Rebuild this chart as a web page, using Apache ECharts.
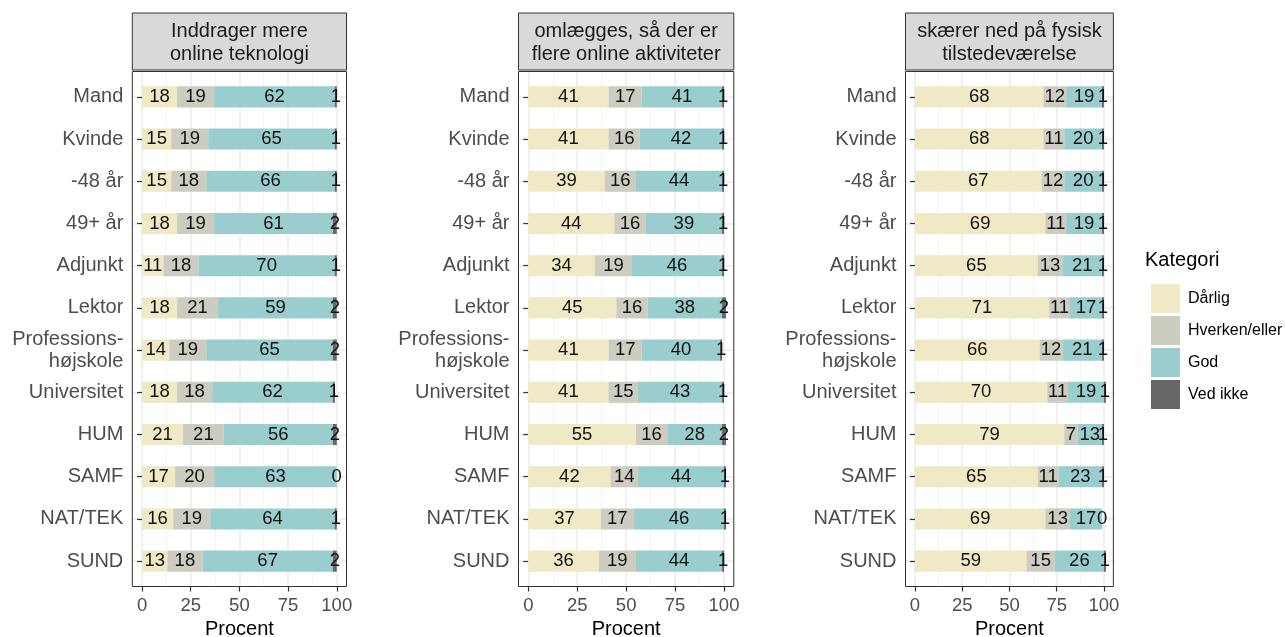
<!DOCTYPE html>
<html>
<head>
<meta charset="utf-8">
<script src="https://cdn.jsdelivr.net/npm/echarts@6/dist/echarts.min.js"></script>
<style>
  html, body { margin: 0; padding: 0; background: #fff; }
  #chart { width: 1285px; height: 637px; }
</style>
</head>
<body>
<div id="chart"></div>
<script>
// Groups shown on the vertical axis (top to bottom)
const categories = ['Mand', 'Kvinde', '-48 år', '49+ år', 'Adjunkt', 'Lektor',
  'Professions-\nhøjskole', 'Universitet', 'HUM', 'SAMF', 'NAT/TEK', 'SUND'];
const panelTitles = ['Inddrager mere\nonline teknologi',
  'omlægges, så der er\nflere online aktiviteter',
  'skærer ned på fysisk\ntilstedeværelse'];
const kategorier = ['Dårlig', 'Hverken/eller', 'God', 'Ved ikke'];
const xMin = 0, xMax = 100, xStep = 25;

// Percentages per panel and answer category
const p1Darlig  = [18, 15, 15, 18, 11, 18, 14, 18, 21, 17, 16, 13];
const p1Hverken = [19, 19, 18, 19, 18, 21, 19, 18, 21, 20, 19, 18];
const p1God     = [62, 65, 66, 61, 70, 59, 65, 62, 56, 63, 64, 67];
const p1VedIkke = [1, 1, 1, 2, 1, 2, 2, 1, 2, 0, 1, 2];

const p2Darlig  = [41, 41, 39, 44, 34, 45, 41, 41, 55, 42, 37, 36];
const p2Hverken = [17, 16, 16, 16, 19, 16, 17, 15, 16, 14, 17, 19];
const p2God     = [41, 42, 44, 39, 46, 38, 40, 43, 28, 44, 46, 44];
const p2VedIkke = [1, 1, 1, 1, 1, 2, 1, 1, 2, 1, 1, 1];

const p3Darlig  = [68, 68, 67, 69, 65, 71, 66, 70, 79, 65, 69, 59];
const p3Hverken = [12, 11, 12, 11, 13, 11, 12, 11, 7, 11, 13, 15];
const p3God     = [19, 20, 20, 19, 21, 17, 21, 19, 13, 23, 17, 26];
const p3VedIkke = [1, 1, 1, 1, 1, 1, 1, 1, 1, 1, 0, 1];

const panelData = [
  [p1Darlig, p1Hverken, p1God, p1VedIkke],
  [p2Darlig, p2Hverken, p2God, p2VedIkke],
  [p3Darlig, p3Hverken, p3God, p3VedIkke]
];

const colors = ['#EFE9C5', '#CDCCC1', '#9ACDCD', '#666666'];
const FONT = 'Liberation Sans, Arial, Helvetica, sans-serif';

// Panel frames in pixels
const panels = [
  { left: 132.3, width: 214.2 },
  { left: 518.5, width: 215.3 },
  { left: 905.5, width: 207.9 }
];
const panelTop = 71.5;
const panelHeight = 515;
const stripTop = 13;
// padding around the data: 5% of the range horizontally, 0.6 band vertically
const xPad = 0.05;
const band = panelHeight / (categories.length - 1 + 1.2);
const noBounds = { outerBoundsMode: 'none', containLabel: false, show: false };

const grid = [], xAxis = [], yAxis = [], series = [], graphic = [];

panels.forEach((p, i) => {
  const unit = p.width / (1 + 2 * xPad);
  const dataLeft = p.left + xPad * unit;
  const padValue = xPad * (xMax - xMin);
  const gH = 3 * i, gV = 3 * i + 1, gM = 3 * i + 2;

  // horizontal gridlines across the whole panel, one per category
  grid.push(Object.assign({ left: p.left, top: panelTop + 0.6 * band, width: p.width, height: band * (categories.length - 1) }, noBounds));
  // vertical gridlines, x ticks, x labels and axis title
  grid.push(Object.assign({ left: dataLeft, top: panelTop, width: unit, height: panelHeight }, noBounds));
  // bars and category labels
  grid.push(Object.assign({ left: p.left, top: panelTop + 0.1 * band, width: p.width, height: band * categories.length }, noBounds));

  xAxis.push({ type: 'value', gridIndex: gH, min: 0, max: 1, show: false });
  xAxis.push({
    type: 'value', gridIndex: gV, min: xMin, max: xMax, interval: xStep, position: 'bottom',
    axisLine: { show: false },
    axisTick: { show: true, length: 5, lineStyle: { color: '#333', width: 1.2 } },
    axisLabel: { show: true, margin: 9.5, fontSize: 18.5, color: '#4D4D4D', fontFamily: FONT },
    splitLine: { show: true, lineStyle: { color: '#EBEBEB', width: 1.5 } },
    minorTick: { show: false, splitNumber: 2 },
    minorSplitLine: { show: true, lineStyle: { color: '#F3F3F3', width: 1 } },
    name: 'Procent', nameLocation: 'middle', nameGap: 31,
    nameTextStyle: { fontSize: 20, color: '#000', fontFamily: FONT }
  });
  xAxis.push({ type: 'value', gridIndex: gM, min: xMin - padValue, max: xMax + padValue, show: false });

  yAxis.push({
    type: 'value', gridIndex: gH, min: 0, max: categories.length - 1, interval: 1, inverse: true,
    axisLine: { show: false }, axisTick: { show: false }, axisLabel: { show: false },
    splitLine: { show: true, lineStyle: { color: '#EBEBEB', width: 1.5 } }
  });
  yAxis.push({ type: 'value', gridIndex: gV, min: 0, max: 1, show: false });
  yAxis.push({
    type: 'category', gridIndex: gM, data: categories, inverse: true,
    axisLine: { show: false },
    axisTick: { show: true, alignWithLabel: true, length: 5, lineStyle: { color: '#333', width: 1.2 } },
    axisLabel: { show: true, interval: 0, margin: 9, fontSize: 20, lineHeight: 22, color: '#4D4D4D', fontFamily: FONT, align: 'right' },
    splitLine: { show: false }
  });

  panelData[i].forEach((vals, k) => {
    series.push({
      type: 'bar', name: kategorier[k], stack: 'panel' + i,
      xAxisIndex: gM, yAxisIndex: gM,
      data: vals, barWidth: '50%',
      itemStyle: { color: colors[k] },
      label: {
        show: true, position: 'inside', formatter: '{c}',
        fontSize: 18.5, color: '#111', fontFamily: FONT
      },
      emphasis: { disabled: true },
      animation: false
    });
  });

  // panel frame
  graphic.push({
    type: 'rect', z: 100,
    shape: { x: p.left, y: panelTop, width: p.width, height: panelHeight },
    style: { fill: null, stroke: '#333', lineWidth: 1 }
  });
  // facet strip
  graphic.push({
    type: 'rect', z: 100,
    shape: { x: p.left, y: stripTop, width: p.width, height: panelTop - stripTop - 1.5 },
    style: { fill: '#D9D9D9', stroke: '#333', lineWidth: 1 }
  });
  graphic.push({
    type: 'text', z: 101, x: p.left + p.width / 2, y: (stripTop + panelTop - 1.5) / 2 + 1,
    style: {
      text: panelTitles[i], fill: '#1A1A1A', fontSize: 20, fontFamily: FONT,
      lineHeight: 23, align: 'center', verticalAlign: 'middle'
    }
  });
});

// legend title
graphic.push({
  type: 'text', x: 1145, y: 250.5,
  style: { text: 'Kategori', fill: '#000', fontSize: 20, fontFamily: FONT, verticalAlign: 'top' }
});

const chart = echarts.init(document.getElementById('chart'), null, { renderer: 'canvas' });
chart.setOption({
  animation: false,
  backgroundColor: '#fff',
  grid, xAxis, yAxis, series, graphic,
  legend: {
    data: kategorier, orient: 'vertical', left: 1146, top: 279,
    itemWidth: 29, itemHeight: 29, itemGap: 3, icon: 'rect',
    selectedMode: false,
    textStyle: { fontSize: 16, color: '#000', fontFamily: FONT, padding: [0, 0, 0, 3] }
  },
  tooltip: { show: false }
});
</script>
</body>
</html>
